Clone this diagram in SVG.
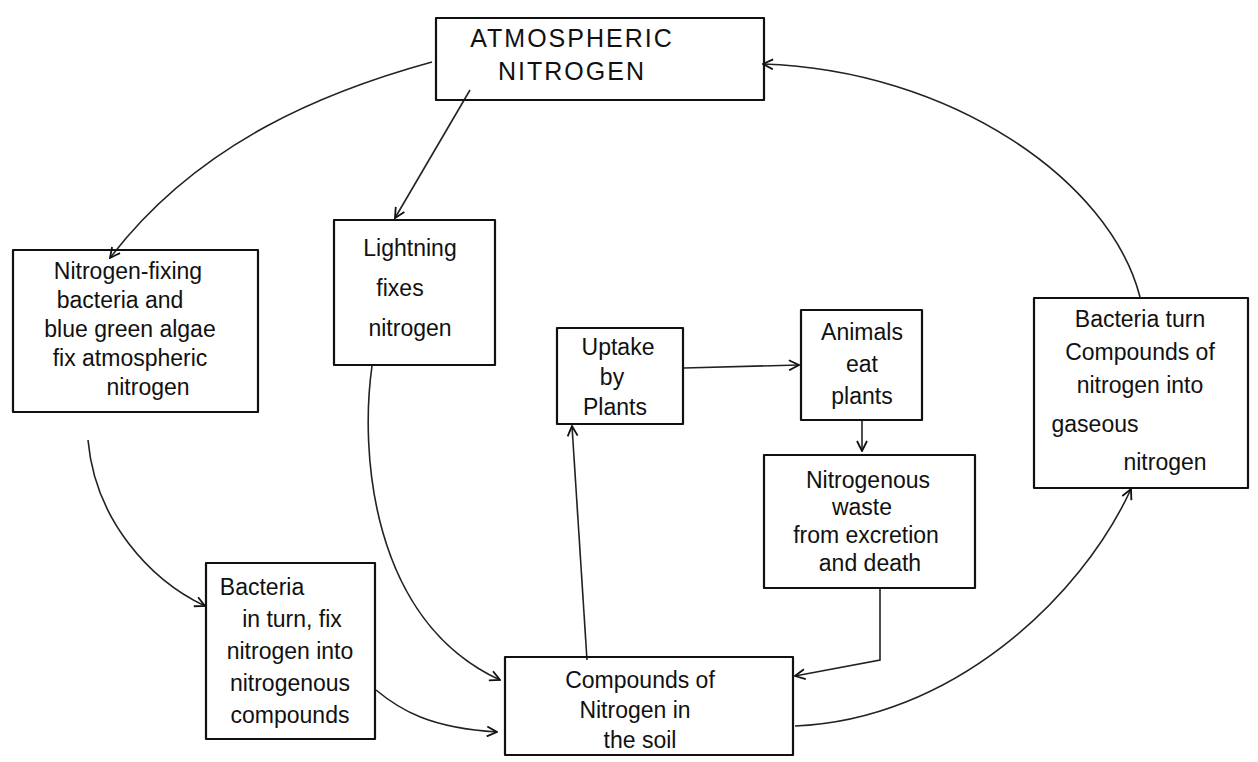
<svg xmlns="http://www.w3.org/2000/svg" width="1258" height="762" viewBox="0 0 1258 762">
<defs>
<style>
.box{fill:none;stroke:#111;stroke-width:2.2;stroke-linejoin:round}
.t{font-family:"Liberation Sans",Arial,sans-serif;font-size:23px;fill:#111;text-anchor:middle}
.cap{font-family:"Liberation Sans",Arial,sans-serif;font-size:25px;fill:#111;text-anchor:middle;letter-spacing:2px}
.c{fill:none;stroke:#222;stroke-width:1.6}
</style>
<marker id="ah" viewBox="0 0 12 12" refX="11" refY="6" markerWidth="12" markerHeight="12" markerUnits="userSpaceOnUse" orient="auto">
<path d="M1,1 L11,6 L1,11" fill="none" stroke="#111" stroke-width="1.8"/>
</marker>
</defs>
<rect width="1258" height="762" fill="#fff"/>
<g id="connectors">
<path class="c" d="M432,62 C330,90 200,140 110,258" marker-end="url(#ah)"/>
<path class="c" d="M470,90 L395,218" marker-end="url(#ah)"/>
<path class="c" d="M372,366 C360,450 370,620 500,680" marker-end="url(#ah)"/>
<path class="c" d="M88,440 C95,520 150,580 205,606" marker-end="url(#ah)"/>
<path class="c" d="M376,690 C400,710 430,728 497,732" marker-end="url(#ah)"/>
<path class="c" d="M587,660 L572,426" marker-end="url(#ah)"/>
<path class="c" d="M684,368 L799,365" marker-end="url(#ah)"/>
<path class="c" d="M862,421 L862,451" marker-end="url(#ah)"/>
<path class="c" d="M880,589 L880,660 L795,676" marker-end="url(#ah)"/>
<path class="c" d="M795,726 C950,720 1080,600 1131,489" marker-end="url(#ah)"/>
<path class="c" d="M1140,297 C1110,180 950,70 763,64" marker-end="url(#ah)"/>
</g>
<g id="n-atmospheric">
<rect class="box" x="436" y="18" width="328" height="82"/>
<text class="cap" x="572" y="47">ATMOSPHERIC</text>
<text class="cap" x="572" y="80">NITROGEN</text>
</g>
<g id="n-fixing">
<rect class="box" x="13" y="250" width="245" height="162"/>
<text class="t" x="128" y="279">Nitrogen-fixing</text>
<text class="t" x="120" y="308">bacteria and</text>
<text class="t" x="130" y="337">blue green algae</text>
<text class="t" x="130" y="366">fix atmospheric</text>
<text class="t" x="148" y="395">nitrogen</text>
</g>
<g id="n-lightning">
<rect class="box" x="334" y="220" width="161" height="145"/>
<text class="t" x="410" y="256">Lightning</text>
<text class="t" x="400" y="296">fixes</text>
<text class="t" x="410" y="336">nitrogen</text>
</g>
<g id="n-uptake">
<rect class="box" x="557" y="328" width="126" height="96"/>
<text class="t" x="618" y="355">Uptake</text>
<text class="t" x="612" y="385">by</text>
<text class="t" x="615" y="415">Plants</text>
</g>
<g id="n-animals">
<rect class="box" x="801" y="310" width="121" height="110"/>
<text class="t" x="862" y="340">Animals</text>
<text class="t" x="862" y="372">eat</text>
<text class="t" x="862" y="404">plants</text>
</g>
<g id="n-waste">
<rect class="box" x="764" y="455" width="211" height="133"/>
<text class="t" x="868" y="488">Nitrogenous</text>
<text class="t" x="862" y="515">waste</text>
<text class="t" x="866" y="543">from excretion</text>
<text class="t" x="870" y="571">and death</text>
</g>
<g id="n-gaseous">
<rect class="box" x="1034" y="298" width="214" height="190"/>
<text class="t" x="1140" y="327">Bacteria turn</text>
<text class="t" x="1140" y="360">Compounds of</text>
<text class="t" x="1140" y="393">nitrogen into</text>
<text class="t" x="1095" y="432">gaseous</text>
<text class="t" x="1165" y="470">nitrogen</text>
</g>
<g id="n-bacteria-fix">
<rect class="box" x="206" y="563" width="169" height="176"/>
<text class="t" x="262" y="595">Bacteria</text>
<text class="t" x="292" y="627">in turn, fix</text>
<text class="t" x="290" y="659">nitrogen into</text>
<text class="t" x="290" y="691">nitrogenous</text>
<text class="t" x="290" y="723">compounds</text>
</g>
<g id="n-soil">
<rect class="box" x="505" y="657" width="288" height="98"/>
<text class="t" x="640" y="688">Compounds of</text>
<text class="t" x="635" y="718">Nitrogen in</text>
<text class="t" x="640" y="748">the soil</text>
</g>
</svg>
